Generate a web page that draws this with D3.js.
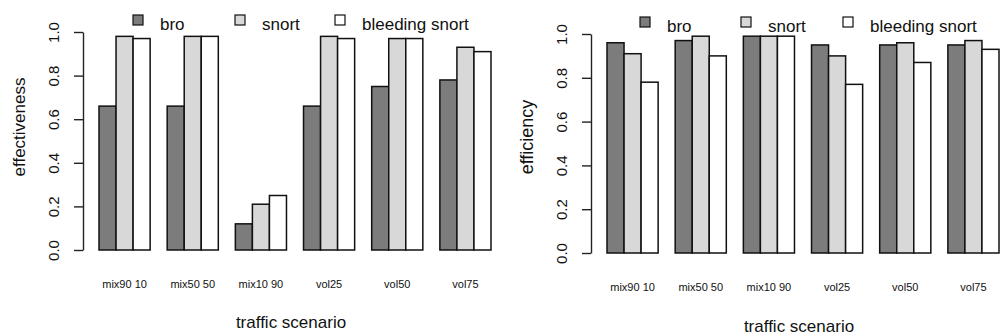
<!DOCTYPE html>
<html>
<head>
<meta charset="utf-8">
<script src="https://cdn.jsdelivr.net/npm/d3@7"></script>
<style>
  body { margin: 0; background: #fff; }
  svg { display: block; font-family: "Liberation Sans", Arial, sans-serif; }
</style>
</head>
<body>
<svg id="chart" width="1001" height="335"></svg>
<script>
var categories = ["mix90 10", "mix50 50", "mix10 90", "vol25", "vol50", "vol75"];
var series = ["bro", "snort", "bleeding snort"];
var yTicks = [0, 0.2, 0.4, 0.6, 0.8, 1.0];

// effectiveness per scenario
var effBro      = [0.66, 0.66, 0.12, 0.66, 0.75, 0.78];
var effSnort    = [0.98, 0.98, 0.21, 0.98, 0.97, 0.93];
var effBleeding = [0.97, 0.98, 0.25, 0.97, 0.97, 0.91];

// efficiency per scenario
var fcyBro      = [0.96, 0.97, 0.99, 0.95, 0.95, 0.95];
var fcySnort    = [0.91, 0.99, 0.99, 0.90, 0.96, 0.97];
var fcyBleeding = [0.78, 0.90, 0.99, 0.77, 0.87, 0.93];

var colors = { "bro": "#7c7c7c", "snort": "#d8d8d8", "bleeding snort": "#ffffff" };

var svg = d3.select("#chart");

function panel(opts) {
  var g = svg.append("g");

  var rows = categories.map(function(c, i) {
    return { cat: c, vals: opts.values.map(function(v, j) { return { key: series[j], v: v[i] }; }) };
  });

  var x = d3.scaleBand()
    .domain(categories)
    .range([opts.x0, opts.x1])
    .paddingInner(0.25)
    .paddingOuter(0);

  var xs = d3.scaleBand()
    .domain(series)
    .range([0, x.bandwidth()]);

  var y = d3.scaleLinear()
    .domain([0, 1])
    .range([opts.yBottom, opts.yTop]);

  // bars
  g.selectAll(".grp")
    .data(rows)
    .enter()
    .append("g")
    .attr("class", "grp")
    .attr("transform", function(d) { return "translate(" + x(d.cat) + ",0)"; })
    .selectAll("rect")
    .data(function(d) { return d.vals; })
    .enter()
    .append("rect")
    .attr("x", function(d) { return xs(d.key); })
    .attr("width", xs.bandwidth())
    .attr("y", function(d) { return y(d.v); })
    .attr("height", function(d) { return y(0) - y(d.v); })
    .attr("fill", function(d) { return colors[d.key]; })
    .attr("stroke", "#111")
    .attr("stroke-width", 1.5);

  // y axis
  var ax = g.append("g")
    .attr("transform", "translate(" + opts.axisX + ",0)")
    .call(d3.axisLeft(y).tickValues(yTicks).tickSize(9).tickSizeOuter(0).tickFormat(d3.format(".1f")));
  ax.select(".domain").attr("stroke", "#222").attr("stroke-width", 1.4);
  ax.selectAll(".tick line").attr("stroke", "#222").attr("stroke-width", 1.4);
  ax.selectAll(".tick text")
    .attr("transform", "rotate(-90)")
    .attr("x", 0)
    .attr("y", -24)
    .attr("dy", 0)
    .attr("text-anchor", "middle")
    .attr("fill", "#111")
    .attr("font-size", 15)
    .attr("font-family", "'Liberation Sans', Arial, sans-serif");

  // category labels
  g.selectAll(".cat")
    .data(categories)
    .enter()
    .append("text")
    .attr("class", "cat")
    .attr("x", function(d) { return x(d) + x.bandwidth() / 2; })
    .attr("y", opts.catY)
    .attr("text-anchor", "middle")
    .attr("fill", "#111")
    .style("font-size", "11px")
    .text(function(d) { return d; });

  // axis titles
  g.append("text")
    .attr("x", (opts.x0 + opts.x1) / 2 - 4)
    .attr("y", opts.titleY)
    .attr("text-anchor", "middle")
    .attr("fill", "#111")
    .style("font-size", "17px")
    .text("traffic scenario");

  g.append("text")
    .attr("transform", "translate(" + opts.yTitleX + "," + opts.yTitleY + ") rotate(-90)")
    .attr("text-anchor", "middle")
    .attr("fill", "#111")
    .style("font-size", opts.yTitleSize + "px")
    .text(opts.yTitle);

  // legend
  var lg = g.selectAll(".leg")
    .data(series)
    .enter()
    .append("g")
    .attr("class", "leg")
    .attr("transform", function(d, i) { return "translate(" + opts.legX[i] + "," + opts.legY + ")"; });
  lg.append("rect")
    .attr("x", 0)
    .attr("y", -10)
    .attr("width", 10)
    .attr("height", 10)
    .attr("fill", function(d) { return colors[d]; })
    .attr("stroke", "#111")
    .attr("stroke-width", 1.2);
  lg.append("text")
    .attr("x", 27)
    .attr("y", 0)
    .attr("dy", "0.3em")
    .attr("fill", "#111")
    .style("font-size", "17px")
    .text(function(d) { return d; });
}

panel({
  values: [effBro, effSnort, effBleeding],
  x0: 99, x1: 491, yBottom: 250, yTop: 32, axisX: 83,
  catY: 288, titleY: 328, yTitle: "effectiveness", yTitleSize: 17, yTitleX: 25, yTitleY: 127,
  legX: [133, 235, 335], legY: 25
});

panel({
  values: [fcyBro, fcySnort, fcyBleeding],
  x0: 607, x1: 999, yBottom: 253, yTop: 34, axisX: 591,
  catY: 291, titleY: 332, yTitle: "efficiency", yTitleSize: 18, yTitleX: 533, yTitleY: 137,
  legX: [640, 741, 843], legY: 27
});
</script>
</body>
</html>
